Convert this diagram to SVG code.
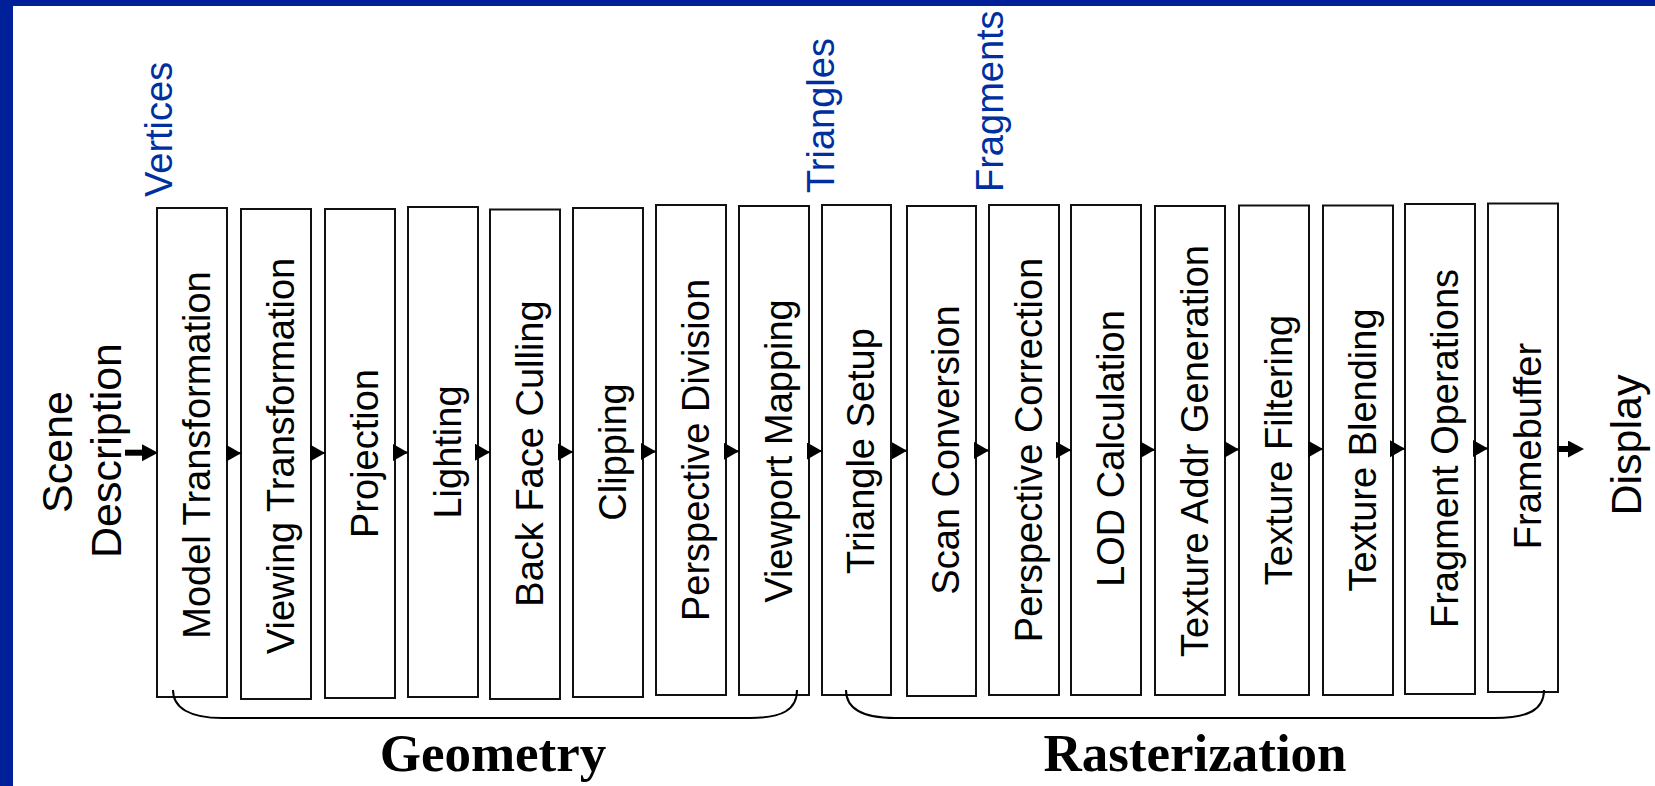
<svg xmlns="http://www.w3.org/2000/svg" width="1655" height="786" viewBox="0 0 1655 786">
<style>
.bx{fill:#fff;stroke:#111;stroke-width:2}
.t{font-family:"Liberation Sans",Arial,Helvetica,sans-serif;font-size:38px;fill:#000;text-anchor:middle}
.big{font-family:"Liberation Sans",Arial,Helvetica,sans-serif;font-size:43px;fill:#000;text-anchor:middle}
.lab{font-family:"Liberation Sans",Arial,Helvetica,sans-serif;font-size:38px;fill:#0030A0;text-anchor:start}
.grp{font-family:"Liberation Serif","Times New Roman",serif;font-size:53px;font-weight:bold;fill:#000;text-anchor:middle}
.c{stroke:#000;stroke-width:2;fill:none}
.ck{stroke:#000;stroke-width:6;fill:none}
.br{stroke:#000;stroke-width:2;fill:none}
</style>
<defs>
<marker id="tip" markerUnits="userSpaceOnUse" markerWidth="16" markerHeight="18" refX="15" refY="8.5" orient="auto"><path d="M0,0 L15,8.5 L0,17 z" fill="#000"/></marker>
<marker id="head" markerUnits="userSpaceOnUse" markerWidth="17" markerHeight="18" refX="0" refY="8.5" orient="auto"><path d="M0,0 L16,8.5 L0,17 z" fill="#000"/></marker>
</defs>
<rect x="0" y="0" width="1655" height="786" fill="#fff"/>
<rect x="0" y="0" width="1655" height="6" fill="#00209A"/>
<rect x="0" y="0" width="13" height="786" fill="#00209A"/>

<g id="scene"><text class="big" transform="translate(71.5,452) rotate(-90)">Scene</text><text class="big" transform="translate(120.5,450.5) rotate(-90)">Description</text></g>
<g id="display"><text class="big" transform="translate(1641,445) rotate(-90)">Display</text></g>

<g id="label-vertices"><text class="lab" transform="translate(171.5,197) rotate(-90)">Vertices</text></g>
<g id="label-triangles"><text class="lab" transform="translate(834,193) rotate(-90)">Triangles</text></g>
<g id="label-fragments"><text class="lab" transform="translate(1002.5,192) rotate(-90)">Fragments</text></g>

<g id="n1"><rect class="bx" x="157" y="208" width="70" height="489"/><text class="t" transform="translate(209.5,455) rotate(-90)">Model Transformation</text></g>
<g id="n2"><rect class="bx" x="241" y="209" width="70" height="490"/><text class="t" transform="translate(293.5,456) rotate(-90)">Viewing Transformation</text></g>
<g id="n3"><rect class="bx" x="325" y="209" width="70" height="489"/><text class="t" transform="translate(377.5,453.5) rotate(-90)">Projection</text></g>
<g id="n4"><rect class="bx" x="408" y="207" width="70" height="490"/><text class="t" transform="translate(460.5,452) rotate(-90)">Lighting</text></g>
<g id="n5"><rect class="bx" x="490" y="209.5" width="70" height="489.5"/><text class="t" transform="translate(542.5,453.5) rotate(-90)">Back Face Culling</text></g>
<g id="n6"><rect class="bx" x="573" y="208" width="70" height="489"/><text class="t" transform="translate(625.5,452) rotate(-90)">Clipping</text></g>
<g id="n7"><rect class="bx" x="656" y="205" width="70" height="490"/><text class="t" transform="translate(708.5,450) rotate(-90)">Perspective Division</text></g>
<g id="n8"><rect class="bx" x="739" y="206" width="70" height="489"/><text class="t" transform="translate(791.5,451) rotate(-90)">Viewport Mapping</text></g>
<g id="n9"><rect class="bx" x="822" y="205" width="69" height="490"/><text class="t" transform="translate(874,451) rotate(-90)">Triangle Setup</text></g>
<g id="n10"><rect class="bx" x="907" y="206" width="69" height="490"/><text class="t" transform="translate(959,450) rotate(-90)">Scan Conversion</text></g>
<g id="n11"><rect class="bx" x="989" y="205" width="70" height="490"/><text class="t" transform="translate(1041.5,450) rotate(-90)">Perspective Correction</text></g>
<g id="n12"><rect class="bx" x="1071" y="205" width="70" height="490"/><text class="t" transform="translate(1123.5,448.5) rotate(-90)">LOD Calculation</text></g>
<g id="n13"><rect class="bx" x="1155" y="206" width="70" height="489"/><text class="t" transform="translate(1207.5,451) rotate(-90)">Texture Addr Generation</text></g>
<g id="n14"><rect class="bx" x="1239" y="205.5" width="70" height="489.5"/><text class="t" transform="translate(1291.5,450) rotate(-90)">Texture Filtering</text></g>
<g id="n15"><rect class="bx" x="1323" y="205.5" width="70" height="489.5"/><text class="t" transform="translate(1375.5,450) rotate(-90)">Texture Blending</text></g>
<g id="n16"><rect class="bx" x="1405" y="204" width="70" height="490"/><text class="t" transform="translate(1457.5,448.5) rotate(-90)">Fragment Operations</text></g>
<g id="n17"><rect class="bx" x="1488" y="203.5" width="70" height="488.5"/><text class="t" transform="translate(1540.5,446) rotate(-90)">Framebuffer</text></g>

<g id="connectors">
<path class="ck" d="M125,452.7 H142" marker-end="url(#head)"/>
<path class="c" d="M227,453.2 H241" marker-end="url(#tip)"/>
<path class="c" d="M311,452.9 H325" marker-end="url(#tip)"/>
<path class="c" d="M395,452.6 H408" marker-end="url(#tip)"/>
<path class="c" d="M478,452.2 H490" marker-end="url(#tip)"/>
<path class="c" d="M560,451.9 H573" marker-end="url(#tip)"/>
<path class="c" d="M643,451.6 H656" marker-end="url(#tip)"/>
<path class="c" d="M726,451.3 H739" marker-end="url(#tip)"/>
<path class="c" d="M809,451 H822" marker-end="url(#tip)"/>
<path class="c" d="M891,450.7 H907" marker-end="url(#tip)"/>
<path class="c" d="M976,450.4 H989" marker-end="url(#tip)"/>
<path class="c" d="M1059,450.1 H1071" marker-end="url(#tip)"/>
<path class="c" d="M1141,449.8 H1155" marker-end="url(#tip)"/>
<path class="c" d="M1225,449.4 H1239" marker-end="url(#tip)"/>
<path class="c" d="M1309,449.1 H1323" marker-end="url(#tip)"/>
<path class="c" d="M1393,448.8 H1405" marker-end="url(#tip)"/>
<path class="c" d="M1475,448.5 H1488" marker-end="url(#tip)"/>
<path class="ck" d="M1557,449 H1568" marker-end="url(#head)"/>
</g>

<g id="geometry">
<path class="br" d="M173,690 C173,708 190,718 222,718 L750,718 C782,718 797,710 797,690"/>
<text class="grp" x="493" y="771">Geometry</text>
</g>
<g id="rasterization">
<path class="br" d="M846,690 C846,708 862,718 895,718 L1494,718 C1528,718 1544,710 1544,690"/>
<text class="grp" x="1195" y="771">Rasterization</text>
</g>
</svg>
